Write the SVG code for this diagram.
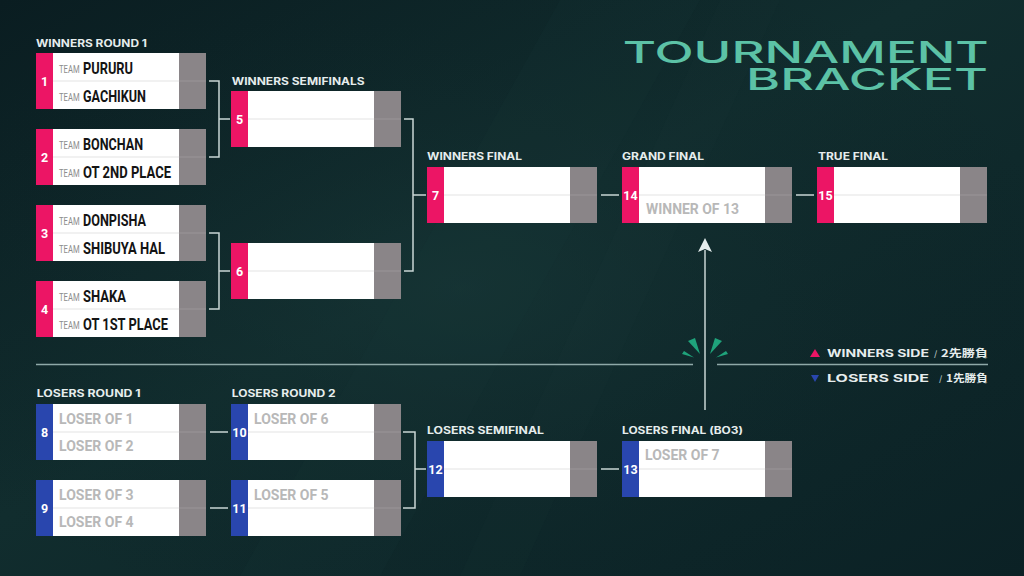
<svg xmlns="http://www.w3.org/2000/svg" width="1024" height="576" viewBox="0 0 1024 576">
<defs>
<linearGradient id="bg" x1="0" y1="0" x2="1" y2="1">
<stop offset="0" stop-color="#0a1d21"/>
<stop offset="0.45" stop-color="#112d2e"/>
<stop offset="1" stop-color="#0b2125"/>
</linearGradient>
<radialGradient id="glow" cx="0.45" cy="0.5" r="0.6">
<stop offset="0" stop-color="#1a3a3a" stop-opacity="0.5"/>
<stop offset="1" stop-color="#0b1f23" stop-opacity="0"/>
</radialGradient>
</defs>
<style>
.strip-w{fill:#ec1565}
.strip-l{fill:#2946ae}
.white{fill:#ffffff}
.score{fill:#8a8588}
.div{stroke:#e3e3e3;stroke-width:1}
.div2{stroke:#9a9598;stroke-width:1}
.num{font-family:Roboto,"Liberation Sans",sans-serif;font-weight:700;font-size:12.5px;fill:#ffffff;text-anchor:middle}
.team{font-family:Roboto,"Liberation Sans",sans-serif;font-size:9px;fill:#8c8c8c}
.name{font-family:Roboto,"Liberation Sans",sans-serif;font-weight:700;font-size:17px;fill:#141414}
.ph{font-family:Roboto,"Liberation Sans",sans-serif;font-weight:700;font-size:14px;fill:#b8b8b8}
.lbl{font-family:Inter,"Liberation Sans",sans-serif;font-weight:700;font-size:10px;fill:#e6eded}
.title{font-family:Inter,"Liberation Sans",sans-serif;font-weight:500;font-size:30px;fill:#5cc2a6}
.leg{font-family:Inter,"Liberation Sans",sans-serif;font-weight:700;font-size:10.5px;fill:#e6eded}
.sl{font-family:Inter,"Liberation Sans",sans-serif;font-size:9px;fill:#b9c6c6}
.cjk{font-family:"Noto Sans CJK JP",sans-serif;font-weight:700;font-size:10.5px;fill:#e6eded}
.conn{fill:none;stroke:#c9d6d5;stroke-width:1.5}
.sep{fill:none;stroke:#8fa9a8;stroke-width:1.5}
.spark{fill:#1fa37b}
</style>
<rect width="1024" height="576" fill="url(#bg)"/>
<rect width="1024" height="576" fill="url(#glow)"/>
<polygon points="560,0 700,0 380,576 240,576" fill="#1b3a3b" opacity="0.16"/>
<polygon points="720,0 780,0 520,576 460,576" fill="#1b3a3b" opacity="0.1"/>

<g id="title">
<text class="title" x="622.7" y="62.7" textLength="366" lengthAdjust="spacingAndGlyphs">TOURNAMENT</text>
<text class="title" x="746" y="90" textLength="242" lengthAdjust="spacingAndGlyphs">BRACKET</text>
</g>

<g id="round-labels">
<text class="lbl" x="36" y="47" textLength="111" lengthAdjust="spacingAndGlyphs">WINNERS ROUND 1</text>
<text class="lbl" x="231.7" y="85" textLength="133" lengthAdjust="spacingAndGlyphs">WINNERS SEMIFINALS</text>
<text class="lbl" x="427" y="160" textLength="95" lengthAdjust="spacingAndGlyphs">WINNERS FINAL</text>
<text class="lbl" x="622" y="160" textLength="82" lengthAdjust="spacingAndGlyphs">GRAND FINAL</text>
<text class="lbl" x="818" y="160" textLength="70" lengthAdjust="spacingAndGlyphs">TRUE FINAL</text>
<text class="lbl" x="36.7" y="397" textLength="104" lengthAdjust="spacingAndGlyphs">LOSERS ROUND 1</text>
<text class="lbl" x="231.7" y="397" textLength="104" lengthAdjust="spacingAndGlyphs">LOSERS ROUND 2</text>
<text class="lbl" x="427" y="434" textLength="117" lengthAdjust="spacingAndGlyphs">LOSERS SEMIFINAL</text>
<text class="lbl" x="622" y="434" textLength="121" lengthAdjust="spacingAndGlyphs">LOSERS FINAL (BO3)</text>
</g>

<g id="separator">
<line class="sep" x1="36" y1="364.5" x2="693" y2="364.5"/>
<line class="sep" x1="717" y1="364.5" x2="988" y2="364.5"/>
<polygon class="spark" points="688,341 695,338 700,354"/>
<polygon class="spark" points="682,354 684,351 694,357.5"/>
<polygon class="spark" points="722,341 715,338 710,354"/>
<polygon class="spark" points="728,354 726,351 716,357.5"/>
</g>

<g id="legend">
<polygon points="810,357 815,349 820,357" fill="#ec1565"/>
<text class="leg" x="827" y="357" textLength="102" lengthAdjust="spacingAndGlyphs">WINNERS SIDE</text>
<text class="sl" x="934" y="357">/</text>
<text class="cjk" x="941" y="357" textLength="47" lengthAdjust="spacingAndGlyphs">2先勝負</text>
<polygon points="811,375 819,375 815,382" fill="#2946ae"/>
<text class="leg" x="827" y="382" textLength="102" lengthAdjust="spacingAndGlyphs">LOSERS SIDE</text>
<text class="sl" x="939" y="382">/</text>
<text class="cjk" x="946" y="382" textLength="42" lengthAdjust="spacingAndGlyphs">1先勝負</text>
</g>

<g id="connectors">
<path class="conn" d="M209,81 H219 V157 H209 M219,119 H230"/>
<path class="conn" d="M209,233 H219 V309 H209 M219,271 H230"/>
<path class="conn" d="M404,119 H413 V271 H404 M413,195 H426"/>
<path class="conn" d="M601,195 H619"/>
<path class="conn" d="M796,195 H814"/>
<path class="conn" d="M210,432 H228"/>
<path class="conn" d="M210,508 H228"/>
<path class="conn" d="M403,432 H415 V508 H403 M415,469 H426"/>
<path class="conn" d="M601,469 H619"/>
<path class="conn" d="M705,410 V250" stroke="#dfe8e7"/>
<polygon points="705,238 712,252 705,249 698,252" fill="#e6eeee"/>
</g>

<g id="m1"><rect class="strip-w" x="36" y="53" width="17" height="56"/><rect class="white" x="53" y="53" width="126" height="56"/><rect class="score" x="179" y="53" width="27" height="56"/><line class="div" x1="53" y1="81" x2="179" y2="81"/><line class="div2" x1="179" y1="81" x2="206" y2="81"/><text class="num" x="44.5" y="86">1</text>
<text class="team" transform="translate(59,73) scale(0.85,1.3)">TEAM</text><text class="name" x="83" y="74" textLength="50" lengthAdjust="spacingAndGlyphs">PURURU</text>
<text class="team" transform="translate(59,101) scale(0.85,1.3)">TEAM</text><text class="name" x="83" y="102" textLength="63" lengthAdjust="spacingAndGlyphs">GACHIKUN</text></g>

<g id="m2"><rect class="strip-w" x="36" y="129" width="17" height="56"/><rect class="white" x="53" y="129" width="126" height="56"/><rect class="score" x="179" y="129" width="27" height="56"/><line class="div" x1="53" y1="157" x2="179" y2="157"/><line class="div2" x1="179" y1="157" x2="206" y2="157"/><text class="num" x="44.5" y="162">2</text>
<text class="team" transform="translate(59,149) scale(0.85,1.3)">TEAM</text><text class="name" x="83" y="150" textLength="60" lengthAdjust="spacingAndGlyphs">BONCHAN</text>
<text class="team" transform="translate(59,177) scale(0.85,1.3)">TEAM</text><text class="name" x="83" y="178" textLength="88" lengthAdjust="spacingAndGlyphs">OT 2ND PLACE</text></g>

<g id="m3"><rect class="strip-w" x="36" y="205" width="17" height="56"/><rect class="white" x="53" y="205" width="126" height="56"/><rect class="score" x="179" y="205" width="27" height="56"/><line class="div" x1="53" y1="233" x2="179" y2="233"/><line class="div2" x1="179" y1="233" x2="206" y2="233"/><text class="num" x="44.5" y="238">3</text>
<text class="team" transform="translate(59,225) scale(0.85,1.3)">TEAM</text><text class="name" x="83" y="226" textLength="63" lengthAdjust="spacingAndGlyphs">DONPISHA</text>
<text class="team" transform="translate(59,253) scale(0.85,1.3)">TEAM</text><text class="name" x="83" y="254" textLength="82" lengthAdjust="spacingAndGlyphs">SHIBUYA HAL</text></g>

<g id="m4"><rect class="strip-w" x="36" y="281" width="17" height="56"/><rect class="white" x="53" y="281" width="126" height="56"/><rect class="score" x="179" y="281" width="27" height="56"/><line class="div" x1="53" y1="309" x2="179" y2="309"/><line class="div2" x1="179" y1="309" x2="206" y2="309"/><text class="num" x="44.5" y="314">4</text>
<text class="team" transform="translate(59,301) scale(0.85,1.3)">TEAM</text><text class="name" x="83" y="302" textLength="43" lengthAdjust="spacingAndGlyphs">SHAKA</text>
<text class="team" transform="translate(59,329) scale(0.85,1.3)">TEAM</text><text class="name" x="83" y="330" textLength="85" lengthAdjust="spacingAndGlyphs">OT 1ST PLACE</text></g>

<g id="m5"><rect class="strip-w" x="231" y="91" width="17" height="56"/><rect class="white" x="248" y="91" width="126" height="56"/><rect class="score" x="374" y="91" width="27" height="56"/><line class="div" x1="248" y1="119" x2="374" y2="119"/><line class="div2" x1="374" y1="119" x2="401" y2="119"/><text class="num" x="239.5" y="124">5</text></g>

<g id="m6"><rect class="strip-w" x="231" y="243" width="17" height="56"/><rect class="white" x="248" y="243" width="126" height="56"/><rect class="score" x="374" y="243" width="27" height="56"/><line class="div" x1="248" y1="271" x2="374" y2="271"/><line class="div2" x1="374" y1="271" x2="401" y2="271"/><text class="num" x="239.5" y="276">6</text></g>

<g id="m7"><rect class="strip-w" x="427" y="167" width="17" height="56"/><rect class="white" x="444" y="167" width="126" height="56"/><rect class="score" x="570" y="167" width="27" height="56"/><line class="div" x1="444" y1="195" x2="570" y2="195"/><line class="div2" x1="570" y1="195" x2="597" y2="195"/><text class="num" x="435.5" y="200">7</text></g>

<g id="m14"><rect class="strip-w" x="622" y="167" width="17" height="56"/><rect class="white" x="639" y="167" width="126" height="56"/><rect class="score" x="765" y="167" width="27" height="56"/><line class="div" x1="639" y1="195" x2="765" y2="195"/><line class="div2" x1="765" y1="195" x2="792" y2="195"/><text class="num" x="630.5" y="200">14</text>
<text class="ph" x="646" y="214" textLength="93" lengthAdjust="spacingAndGlyphs">WINNER OF 13</text></g>

<g id="m15"><rect class="strip-w" x="817" y="167" width="17" height="56"/><rect class="white" x="834" y="167" width="126" height="56"/><rect class="score" x="960" y="167" width="27" height="56"/><line class="div" x1="834" y1="195" x2="960" y2="195"/><line class="div2" x1="960" y1="195" x2="987" y2="195"/><text class="num" x="825.5" y="200">15</text></g>

<g id="m8"><rect class="strip-l" x="36" y="404" width="17" height="56"/><rect class="white" x="53" y="404" width="126" height="56"/><rect class="score" x="179" y="404" width="27" height="56"/><line class="div" x1="53" y1="432" x2="179" y2="432"/><line class="div2" x1="179" y1="432" x2="206" y2="432"/><text class="num" x="44.5" y="437">8</text>
<text class="ph" x="59" y="423.5">LOSER OF 1</text><text class="ph" x="59" y="451">LOSER OF 2</text></g>

<g id="m9"><rect class="strip-l" x="36" y="480" width="17" height="56"/><rect class="white" x="53" y="480" width="126" height="56"/><rect class="score" x="179" y="480" width="27" height="56"/><line class="div" x1="53" y1="508" x2="179" y2="508"/><line class="div2" x1="179" y1="508" x2="206" y2="508"/><text class="num" x="44.5" y="513">9</text>
<text class="ph" x="59" y="499.5">LOSER OF 3</text><text class="ph" x="59" y="527">LOSER OF 4</text></g>

<g id="m10"><rect class="strip-l" x="231" y="404" width="17" height="56"/><rect class="white" x="248" y="404" width="126" height="56"/><rect class="score" x="374" y="404" width="27" height="56"/><line class="div" x1="248" y1="432" x2="374" y2="432"/><line class="div2" x1="374" y1="432" x2="401" y2="432"/><text class="num" x="239.5" y="437">10</text>
<text class="ph" x="254" y="423.5">LOSER OF 6</text></g>

<g id="m11"><rect class="strip-l" x="231" y="480" width="17" height="56"/><rect class="white" x="248" y="480" width="126" height="56"/><rect class="score" x="374" y="480" width="27" height="56"/><line class="div" x1="248" y1="508" x2="374" y2="508"/><line class="div2" x1="374" y1="508" x2="401" y2="508"/><text class="num" x="239.5" y="513">11</text>
<text class="ph" x="254" y="499.5">LOSER OF 5</text></g>

<g id="m12"><rect class="strip-l" x="427" y="441" width="17" height="56"/><rect class="white" x="444" y="441" width="126" height="56"/><rect class="score" x="570" y="441" width="27" height="56"/><line class="div" x1="444" y1="469" x2="570" y2="469"/><line class="div2" x1="570" y1="469" x2="597" y2="469"/><text class="num" x="435.5" y="474">12</text></g>

<g id="m13"><rect class="strip-l" x="622" y="441" width="17" height="56"/><rect class="white" x="639" y="441" width="126" height="56"/><rect class="score" x="765" y="441" width="27" height="56"/><line class="div" x1="639" y1="469" x2="765" y2="469"/><line class="div2" x1="765" y1="469" x2="792" y2="469"/><text class="num" x="630.5" y="474">13</text>
<text class="ph" x="645" y="460">LOSER OF 7</text></g>
</svg>
